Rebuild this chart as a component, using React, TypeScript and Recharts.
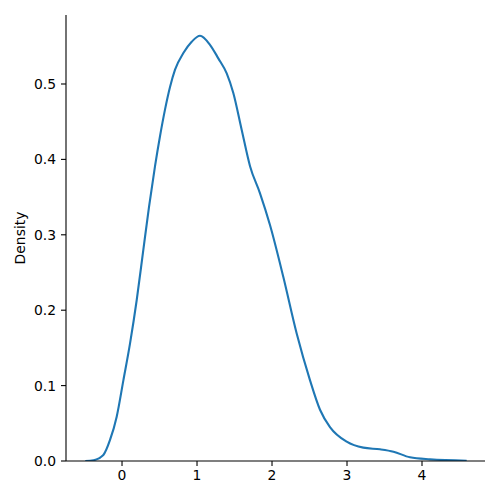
import React from 'react';
import { LineChart, Line, XAxis, YAxis } from 'recharts';

const xValues = [
  -0.49, -0.38, -0.249, -0.16, -0.071, 0.018, 0.107, 0.196, 0.284, 0.36, 0.44, 0.507,
  0.573, 0.64, 0.707, 0.818, 0.929, 1.04, 1.173, 1.284, 1.396, 1.484, 1.596, 1.707,
  1.84, 1.973, 2.151, 2.329, 2.507, 2.64, 2.773, 2.996, 3.217, 3.44, 3.62, 3.84, 4.107, 4.596,
];
const densityValues = [
  0.0, 0.001, 0.008, 0.0279, 0.0588, 0.107, 0.156, 0.2135, 0.28, 0.337, 0.391, 0.431,
  0.466, 0.496, 0.519, 0.541, 0.556, 0.564, 0.552, 0.534, 0.514, 0.488, 0.439, 0.391,
  0.355, 0.313, 0.244, 0.169, 0.107, 0.068, 0.045, 0.0256, 0.0177, 0.0155, 0.0124, 0.0049, 0.0022, 0.0004,
];
const xTicks = [0, 1, 2, 3, 4];
const yTicks = [0, 0.1, 0.2, 0.3, 0.4, 0.5];

const data = xValues.map((x, i) => ({ x, density: densityValues[i] }));

const FONT = 'DejaVu Sans, sans-serif';

const DensityLabel = (props: any) => {
  const vb = props.viewBox || {};
  const cy = (vb.y ?? 15) + (vb.height ?? 446) / 2;
  const cx = 21;
  return (
    <text
      x={cx}
      y={cy}
      transform={`rotate(-90 ${cx} ${cy})`}
      textAnchor="middle"
      dominantBaseline="middle"
      fontFamily={FONT}
      fontSize={13.9}
      fill="#000"
    >
      Density
    </text>
  );
};

export default function App() {
  return (
    <div style={{ position: 'absolute', left: 0, top: 0, width: 500, height: 500, background: '#fff' }}>
      <LineChart width={500} height={500} data={data} margin={{ top: 15, right: 15, left: 10, bottom: 0 }}>
        <XAxis
          dataKey="x"
          type="number"
          domain={[-0.747, 4.84]}
          ticks={xTicks}
          allowDataOverflow
          height={39}
          tickSize={5}
          tickMargin={4}
          axisLine={{ stroke: '#000', strokeWidth: 1.1 }}
          tickLine={{ stroke: '#000', strokeWidth: 1.1 }}
          tick={{ fill: '#000', fontSize: 13.9, fontFamily: FONT }}
          tickFormatter={(v: number) => String(v)}
        />
        <YAxis
          type="number"
          domain={[0, 0.5915]}
          ticks={yTicks}
          allowDataOverflow
          width={56}
          tickSize={5}
          tickMargin={5}
          axisLine={{ stroke: '#000', strokeWidth: 1.1 }}
          tickLine={{ stroke: '#000', strokeWidth: 1.1 }}
          tick={{ fill: '#000', fontSize: 13.9, fontFamily: FONT }}
          tickFormatter={(v: number) => v.toFixed(1)}
          label={<DensityLabel />}
        />
        <Line
          type="monotone"
          dataKey="density"
          stroke="#1f77b4"
          strokeWidth={2.1}
          dot={false}
          isAnimationActive={false}
        />
      </LineChart>
    </div>
  );
}
